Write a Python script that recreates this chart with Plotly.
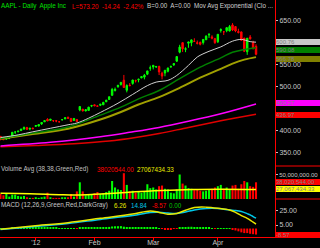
import plotly.graph_objects as go

# ---------------- data ----------------
prev_close = 384.77
opens = [386.70, 383.33, 380.36, 382.47, 387.76, 396.69, 397.00, 399.69, 403.10, 406.89, 403.40, 403.51,
         409.40, 410.00, 414.95, 419.77, 425.50, 425.91, 422.59, 422.41, 419.70, 424.20, 426.16, 430.15, 427.49, 422.67, 425.10, 454.44, 448.45, 444.34, 445.71, 455.59,
         458.41, 455.90, 457.30, 458.38, 465.25, 470.50, 480.00, 490.96, 499.53, 504.66, 514.26, 491.50, 503.11, 506.88, 513.08, 515.08, 519.67, 521.31, 527.96, 541.56,
         548.17, 544.24, 545.42, 523.66, 536.80, 534.69, 544.21, 548.98, 557.54, 578.05, 599.61, 584.72, 598.37, 599.51, 602.74, 597.78, 600.49, 599.79, 606.18, 618.38, 612.78, 608.77,
         601.83, 627.30, 624.35, 626.98, 626.13, 639.93, 636.20, 625.00, 624.11, 610.06, 578.94, 612.46, 600.22, 591.38]
highs = [387.38, 383.74, 384.15, 384.85, 396.10, 397.30, 399.13, 403.59, 409.09, 408.25, 405.65, 406.28,
         412.50, 414.68, 418.55, 422.75, 427.75, 426.00, 422.85, 422.90, 420.45, 425.99, 429.47, 431.37, 427.50, 428.45, 425.10, 454.45, 448.79, 448.48, 453.90, 458.24,
         458.99, 457.17, 460.00, 464.98, 469.75, 476.79, 496.75, 497.62, 503.83, 509.56, 526.29, 504.89, 507.77, 514.85, 515.49, 517.83, 522.90, 528.50, 535.41, 547.61,
         548.21, 546.80, 547.48, 533.69, 537.78, 542.99, 547.74, 552.00, 568.18, 594.72, 600.01, 589.20, 601.77, 606.90, 609.65, 604.50, 601.80, 607.15, 616.28, 621.45, 616.56, 610.56,
         618.77, 632.21, 625.86, 634.66, 639.84, 644.00, 636.87, 631.33, 624.70, 610.28, 610.00, 617.00, 604.00, 596.00]
lows = [377.68, 378.31, 379.57, 380.48, 387.26, 392.01, 396.10, 399.49, 403.02, 401.34, 400.51, 403.49,
        409.00, 409.28, 412.67, 419.22, 421.35, 421.50, 419.31, 418.75, 418.66, 422.96, 426.30, 426.51, 419.75, 422.30, 419.55, 443.73, 443.14, 443.77, 445.39, 453.07,
        455.55, 453.98, 455.56, 458.20, 464.58, 469.70, 479.00, 488.55, 497.09, 502.00, 496.89, 486.63, 500.30, 504.12, 509.07, 509.50, 518.64, 516.28, 525.85, 535.70,
        538.77, 542.52, 526.00, 516.22, 523.30, 532.12, 543.11, 547.00, 555.75, 575.40, 578.55, 578.00, 588.00, 591.48, 601.41, 595.53, 593.40, 595.26, 606.06, 610.31, 607.23, 597.00,
        598.80, 622.51, 617.00, 623.40, 625.30, 626.00, 623.34, 620.50, 603.51, 578.25, 571.91, 606.50, 584.00, 571.00]
closes = [380.19, 378.94, 381.02, 382.21, 395.95, 396.45, 398.55, 403.33, 406.53, 402.64, 405.12, 405.00,
          411.23, 413.44, 418.03, 422.40, 421.73, 423.24, 422.55, 421.39, 419.81, 424.70, 429.11, 427.75, 420.30, 427.41, 420.41, 446.66, 444.63, 447.28, 453.01, 456.48,
          456.19, 455.12, 459.68, 463.97, 468.83, 476.68, 493.17, 493.42, 502.60, 509.46, 497.67, 502.21, 502.12, 514.85, 513.04, 516.39, 522.41, 525.76, 535.41, 542.44,
          544.47, 545.18, 533.16, 530.26, 530.69, 541.99, 545.17, 552.00, 568.10, 589.58, 585.56, 585.57, 601.10, 605.96, 602.50, 599.34, 596.05, 606.98, 614.48, 617.62, 609.86, 599.55,
          618.63, 629.32, 624.31, 633.68, 636.23, 628.44, 626.20, 622.77, 605.23, 580.13, 609.70, 608.34, 587.44, 573.20]
volumes_m = [20, 18, 21, 16, 19, 19, 17, 16, 17, 15, 14, 14,
             15, 14, 15, 16, 22, 15, 14, 14, 14, 15, 15, 15, 20, 16, 24, 38, 24, 18, 20, 20,
             21, 23, 20, 21, 23, 25, 40, 30, 27, 26, 52, 34, 24, 25, 22, 23, 22, 24, 35, 29,
             30, 27, 32, 33, 28, 27, 22, 21, 27, 50, 36, 33, 29, 28, 26, 27, 25, 24, 25, 26, 28, 30,
             32, 34, 28, 30, 27, 33, 34, 28, 35, 40, 38, 32, 31, 38.02]
vol_avg_idx = [0, 10, 20, 26, 32, 40, 46, 55, 65, 75, 87]
vol_avg_m = [21, 20.5, 19, 18.5, 19.5, 21.5, 23.5, 25.5, 27, 27.5, 27.07]

ema_w_idx = [0, 6, 11, 17, 23, 26, 30, 34, 40, 45, 50, 53, 57, 60, 64, 67, 71, 75, 79, 82, 85, 87]
ema_w_val = [384, 390, 397, 405, 413, 417, 428, 441, 462, 482, 502, 510, 514, 525, 548, 567, 580, 590, 603, 607, 602, 600.76]
ema_g_idx = [0, 11, 23, 34, 41, 47, 54, 61, 68, 75, 79, 83, 87]
ema_g_val = [382, 394, 408, 435, 453, 472, 491, 518, 544, 565, 578, 584, 588]
ema_o_idx = [0, 11, 23, 34, 41, 47, 54, 61, 68, 75, 79, 83, 87]
ema_o_val = [381, 392, 404, 425, 442, 459, 476, 497, 520, 540, 552, 561, 566.78]
ema_m_idx = [0, 17, 34, 44, 54, 64, 75, 87]
ema_m_val = [365, 373, 386, 396, 407, 421, 438, 460.27]
ema_r_idx = [0, 12, 25, 37, 46, 54, 64, 75, 87]
ema_r_val = [363, 366, 370, 376, 384, 393, 407, 422, 436.97]

macd_idx = [0, 11, 23, 34, 45, 51, 54, 57, 60, 63, 66, 70, 74, 78, 80, 82, 84, 85, 86, 87]
macd_val = [-1, 3.6, 8.3, 14.5, 20.7, 25, 23, 20.5, 21.5, 26, 30, 30.5, 29, 26.5, 23, 18.5, 14.5, 12, 9, 6.26]
sig_val = [-1.5, 2.6, 7, 13, 18.5, 22.8, 23.2, 22, 21.5, 23.5, 26.5, 28.5, 28.5, 26.5, 25.8, 24.3, 21.2, 19.5, 17.1, 14.84]
hist = [0.3, 0.2, 0.3, 0.4, 0.8, 0.9, 1.0, 1.1, 1.2, 1.0, 0.9, 0.9,
        1.0, 1.1, 1.3, 1.4, 1.3, 1.2, 1.0, 0.8, 0.6, 0.6, 0.7, 0.6, 0.3, 0.2, -0.1, 1.1, 1.3, 1.4, 1.6, 1.8,
        1.8, 1.7, 1.8, 1.9, 2.0, 2.3, 2.9, 3.2, 3.3, 3.4, 2.6, 2.2, 1.9, 2.0, 1.8, 1.7, 1.7, 1.6, 1.9, 2.1,
        1.9, 1.5, 0.6, -0.3, -0.8, -0.9, -0.8, -0.6, -0.1, 1.2, 1.8, 1.9, 2.4, 2.5, 2.1, 1.6, 1.1, 1.0, 1.1, 1.1, 0.6, -0.2,
        0.3, 0.6, 0.4, 0.6, 0.2, -1.5, -2.8, -4.0, -5.5, -6.5, -6.5, -7.5, -8.1, -8.57]

month_ticks = [12, 32, 52, 74]
month_labels = ["'12", "Feb", "Mar", "Apr"]
price_ticks = [350, 400, 500, 550, 650]
# --------------------------------------

FONT = "Liberation Sans, Arial, sans-serif"
GREEN = "#00ff00"
RED = "#ff0000"
n = len(closes)
idx = list(range(n))
prevs = [prev_close] + closes[:-1]
up = [c >= p for c, p in zip(closes, prevs)]
down = [not u for u in up]


def sub(lst, mask):
    return [v for v, m in zip(lst, mask) if m]


fig = go.Figure()
for mask, col in [(up, GREEN), (down, RED)]:
    fig.add_trace(go.Candlestick(
        x=sub(idx, mask), open=sub(opens, mask), high=sub(highs, mask),
        low=sub(lows, mask), close=sub(closes, mask),
        increasing=dict(line=dict(color=col, width=1), fillcolor=col),
        decreasing=dict(line=dict(color=col, width=1), fillcolor=col),
        whiskerwidth=0, xaxis="x", yaxis="y", hoverinfo="skip", showlegend=False))

for xi, yv, col, w in [(ema_r_idx, ema_r_val, "#e00000", 1.5),
                       (ema_m_idx, ema_m_val, "#ff00ff", 1.5),
                       (ema_o_idx, ema_o_val, "#a0a000", 2),
                       (ema_g_idx, ema_g_val, "#008000", 1.5),
                       (ema_w_idx, ema_w_val, "#d0d0d0", 1)]:
    fig.add_trace(go.Scatter(x=xi, y=yv, mode="lines", line=dict(color=col, width=w, shape="spline"),
                             xaxis="x", yaxis="y", hoverinfo="skip"))

vol_colors = [GREEN if u else RED for u in up]
fig.add_trace(go.Bar(x=idx, y=[v * 1e6 for v in volumes_m], marker=dict(color=vol_colors, line=dict(width=0)),
                     xaxis="x", yaxis="y2", hoverinfo="skip"))
fig.add_trace(go.Scatter(x=vol_avg_idx, y=[v * 1e6 for v in vol_avg_m], mode="lines",
                         line=dict(color="#ffff00", width=1.5, shape="spline"), xaxis="x", yaxis="y2"))

hist_colors = [GREEN if h >= 0 else RED for h in hist]
fig.add_trace(go.Bar(x=idx, y=hist, marker=dict(color=hist_colors, line=dict(width=0)),
                     xaxis="x", yaxis="y3", hoverinfo="skip"))
fig.add_trace(go.Scatter(x=macd_idx, y=sig_val, mode="lines", line=dict(color="#00c8e8", width=1.5, shape="spline"),
                         xaxis="x", yaxis="y3"))
fig.add_trace(go.Scatter(x=macd_idx, y=macd_val, mode="lines", line=dict(color="#e8e800", width=1.5, shape="spline"),
                         xaxis="x", yaxis="y3"))

H = 237.0
d_price = [1 - 166 / H, 1]
d_vol = [1 - 199 / H, 1 - 166 / H]
d_macd = [0, 1 - 199 / H]

tickfont = dict(family=FONT, size=7, color="#c8c8c8")
common_y = dict(side="right", showgrid=False, zeroline=False, showline=True, linecolor=RED, linewidth=1,
                ticks="outside", ticklen=2, tickcolor="#c0c0c0", tickfont=tickfont, automargin=False,
                fixedrange=True)

fig.update_layout(
    template="none", width=320, height=248, margin=dict(l=0, r=45, t=0, b=11),
    paper_bgcolor="black", plot_bgcolor="black", showlegend=False,
    boxmode="overlay", bargap=0.3, font=dict(family=FONT, size=7, color="#c8c8c8"),
    xaxis=dict(domain=[0, 1], anchor="y3", range=[-0.17, 93.46], tickvals=month_ticks, ticktext=month_labels,
               ticks="outside", ticklen=3, tickcolor=RED, showline=True, linecolor=RED, linewidth=1,
               showgrid=False, zeroline=False, tickfont=tickfont, rangeslider=dict(visible=False),
               ticklabelstandoff=-4, automargin=False, fixedrange=True),
    yaxis=dict(domain=d_price, anchor="x", range=[319.3, 696.6], tickvals=price_ticks,
               ticktext=["%.2f" % v for v in price_ticks], **common_y),
    yaxis2=dict(domain=d_vol, anchor="x", range=[12.3e6, 63.1e6], tickvals=[50e6],
                ticktext=["50,000,000.00"], **{**common_y, "tickfont": dict(family=FONT, size=6, color="#c8c8c8")}),
    yaxis3=dict(domain=d_macd, anchor="x", range=[-12.1, 42.1], tickvals=[5, 25],
                ticktext=["5.00", "25.00"], **common_y),
)

for y0 in [d_price[0], d_vol[0]]:
    fig.add_shape(type="line", xref="paper", yref="paper", x0=1, x1=1.2, y0=y0, y1=y0,
                  line=dict(color=RED, width=1))


def head(x_px, y_px, text, color, size=6.3):
    fig.add_annotation(xref="paper", yref="paper", x=x_px / 275.0, y=1 - y_px / H, text=text,
                       showarrow=False, xanchor="left", yanchor="middle", borderpad=0,
                       font=dict(family=FONT, size=size, color=color))


head(0, 6, "AAPL - Daily  Apple Inc", "#00e000")
head(71, 6, "L=573.20  -14.24  -2.42%", RED)
head(146, 6, "B=0.00  A=0.00  Mov Avg Exponential (Clo ...", "#d0d0d0")
head(0, 169, "Volume Avg (38,38,Green,Red)", "#c0c0c0")
head(96, 169, "38020544.00", RED)
head(136, 169, "27067434.33", "#e8e800")
head(0, 205, "MACD (12,26,9,Green,Red,DarkGray)", "#c8c8c8")
head(113, 205, "6.26", "#e8e800")
head(130, 205, "14.84", "#00c8e8")
head(151, 205, "-8.57", RED)
head(168, 205, "0.00", "#00c000")


def box(yref, val, text, bg, shift=0, size=6):
    fig.add_annotation(xref="paper", yref=yref, x=276 / 275.0, y=val, yshift=shift, text=text,
                       showarrow=False, xanchor="left", yanchor="middle", width=44, height=6,
                       align="left", bgcolor=bg, borderpad=0, borderwidth=0,
                       font=dict(family=FONT, size=size, color="#808080"))


box("y", ema_w_val[-1], "600.76", "#c8c8c8", 0.5)
box("y", 590.08, "590.08", "#008000", -3)
box("y", ema_o_val[-1], "566.78", "#808000", -1.5)
box("y", ema_m_val[-1], "460.27", "#ff00ff", 0.5)
box("y", ema_r_val[-1], "436.97", RED, -1)
box("y2", volumes_m[-1] * 1e6, "38,020,544.00", RED)
box("y2", vol_avg_m[-1] * 1e6, "27,067,434.33", "#ffff00")
box("y3", hist[-1], "-8.57", RED)

fig.write_html("out.html")
